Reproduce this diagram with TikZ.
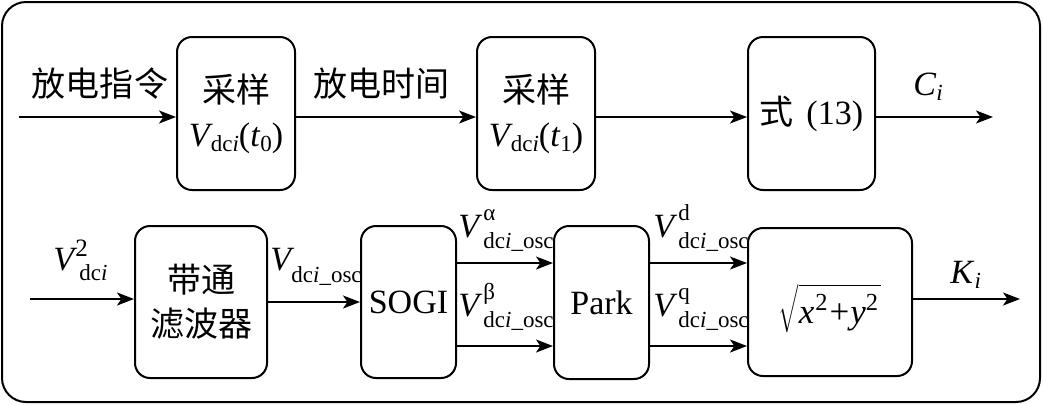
\documentclass[tikz,border=0pt]{standalone}
\usepackage{fontspec}
\setmainfont{Liberation Serif}
\newfontfamily\cjk{Noto Sans CJK SC}
\usetikzlibrary{arrows.meta}
\newcommand{\sbf}{\fontsize{11.5}{12}\selectfont}
\newcommand{\VSS}[5]{\textit{V}\kern#5\makebox[0pt][l]{\raisebox{#3}{\sbf #1}}\raisebox{-#4}{\sbf #2}}
\newcommand{\dci}{dc\textit{i}}
\newcommand{\osc}{dc\textit{i}\_osc}
\begin{document}
\begin{tikzpicture}[x=0.5pt,y=-0.5pt,font=\fontsize{17}{22}\selectfont,
  boxst/.style={draw,line width=1pt,rounded corners=7.5pt,inner sep=0pt,align=center,minimum width=#1,minimum height=76.5pt},
  arr/.style={line width=1pt,-{Stealth[length=8.5pt,width=6.5pt,inset=2.2pt]}},
  lab/.style={inner sep=0pt,anchor=base west}]
\useasboundingbox (0,0) rectangle (1043,404);
\draw[line width=1pt,rounded corners=12pt] (2,2) rectangle (1040,402);
% top row
\node[boxst=59pt] (b1) at (236,113.5) {{\cjk 采样}\\\textit{V}\kern-1pt\raisebox{-2.5pt}{\sbf\dci}(\textit{t}\raisebox{-2.5pt}{\sbf 0})};
\node[boxst=59pt] (b2) at (536,113.5) {{\cjk 采样}\\\textit{V}\kern-1pt\raisebox{-2.5pt}{\sbf\dci}(\textit{t}\raisebox{-2.5pt}{\sbf 1})};
\node[boxst=63.5pt] (b3) at (811.5,113.5) {{\cjk 式}\kern2pt\ (13)};
\node (l1) at (100,84) {\cjk 放电指令};
\node (l2) at (381,84) {\cjk 放电时间};
\node[lab] (lc) at (913,95) {\textit{C}\raisebox{-2.5pt}{\sbf\textit{i}}};
\coordinate (in1) at (19,117);
\coordinate (out1) at (993,117);
\draw[arr] (in1) -- (in1 -| b1.west);
\draw[arr] (b1.east |- in1) -- (b2.west |- in1);
\draw[arr] (b2.east |- in1) -- (b3.west |- in1);
\draw[arr] (b3.east |- out1) -- (out1);
% bottom row
\node[boxst=66pt,minimum height=76pt] (f) at (201,302) {{\cjk 带通}\\{\cjk 滤波器}};
\node[boxst=47.5pt,minimum height=76pt] (s) at (408.5,302) {SOGI};
\node[boxst=47.5pt,minimum height=76.5pt] (p) at (601.5,302.5) {Park};
\node[boxst=82pt,minimum height=74pt,text height=21pt,text depth=0pt] (q) at (830,302)
  {\fontsize{19}{22}\selectfont$\sqrt{\hbox{\fontsize{17.5}{22}\selectfont\rule{0pt}{17pt}\textit{x}\kern0.5pt\textsuperscript{2}\kern0.5pt+\kern0.5pt\textit{y}\textsuperscript{2}\kern1pt}}$};
\node[lab] (lv2) at (53,270) {\textit{V}\kern-1pt\makebox[0pt][l]{\raisebox{7pt}{\fontsize{12.5}{13}\selectfont 2}}\kern2pt\raisebox{-5pt}{\sbf\dci}};
\node[lab] (lvo) at (270,270) {\textit{V}\kern-1.5pt\raisebox{-6pt}{\sbf\osc}};
\node[lab] (lva) at (458,237) {\VSS{α}{\osc}{8.5pt}{5.5pt}{0.5pt}};
\node[lab] (lvb) at (458,316) {\VSS{β}{\osc}{8.5pt}{5.5pt}{0.5pt}};
\node[lab] (lvd) at (653,237) {\VSS{d}{\osc}{8.5pt}{5.5pt}{0.5pt}};
\node[lab] (lvq) at (653,316) {\VSS{q}{\osc}{8.5pt}{5.5pt}{0.5pt}};
\node[lab] (lk) at (950,283) {\textit{K}\raisebox{-2.5pt}{\sbf\textit{i}}};
\coordinate (in2) at (30,299);
\coordinate (out2) at (1020,299);
\coordinate (ya) at (0,263);
\coordinate (yb) at (0,346);
\draw[arr] (in2) -- (in2 -| f.west);
\draw[arr] (f.east) -- (s.west);
\draw[arr] (s.east |- ya) -- (p.west |- ya);
\draw[arr] (s.east |- yb) -- (p.west |- yb);
\draw[arr] (p.east |- ya) -- (q.west |- ya);
\draw[arr] (p.east |- yb) -- (q.west |- yb);
\draw[arr] (q.east |- out2) -- (out2);
\end{tikzpicture}
\end{document}
